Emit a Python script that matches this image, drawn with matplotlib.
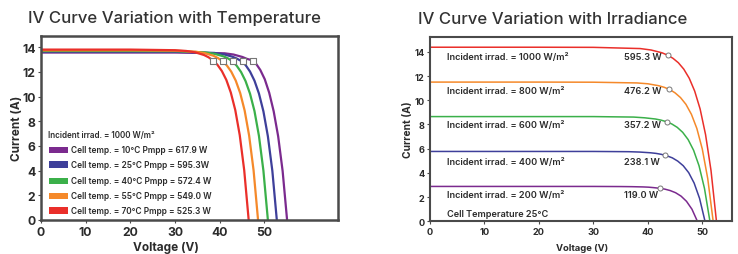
import matplotlib
matplotlib.use("Agg")
import matplotlib.pyplot as plt
from matplotlib.patches import Rectangle

plt.rcParams['font.family'] = ['Inter', 'DejaVu Sans']

# ---------------- Data: temperature chart ----------------
temp_labels = ["Cell temp. = 10°C Pmpp = 617.9 W",
               "Cell temp. = 25°C Pmpp = 595.3W",
               "Cell temp. = 40°C Pmpp = 572.4 W",
               "Cell temp. = 55°C Pmpp = 549.0 W",
               "Cell temp. = 70°C Pmpp = 525.3 W"]
temp_colors = ["#7b2a8e", "#3e3f9a", "#3bb04a", "#f5892a", "#ea2f2a"]

v_t10 = [0, 10, 20, 30, 41.1, 43.1, 45.1, 46.1, 47.1, 48.1, 49.1, 50.1, 51.1, 52.1, 53.1, 54.1, 55.1]
i_t10 = [13.56, 13.56, 13.56, 13.56, 13.50, 13.40, 13.20, 13.05, 12.95, 12.68, 12.15, 11.40, 10.30, 8.80, 6.78, 3.97, 0]
v_t25 = [0, 10, 20, 30, 38.8, 40.8, 42.8, 43.8, 44.8, 45.8, 46.8, 47.8, 48.8, 49.8, 50.8, 51.8, 52.8]
i_t25 = [13.62, 13.62, 13.62, 13.62, 13.53, 13.43, 13.23, 13.08, 12.88, 12.55, 12.02, 11.28, 10.24, 8.80, 6.78, 3.98, 0]
v_t40 = [0, 10, 20, 30, 36.8, 38.8, 40.8, 41.8, 42.8, 43.8, 44.8, 45.8, 46.8, 47.8, 48.8, 49.8, 50.8]
i_t40 = [13.68, 13.68, 13.68, 13.67, 13.57, 13.46, 13.26, 13.10, 12.87, 12.50, 11.98, 11.25, 10.23, 8.82, 6.81, 3.99, 0]
v_t55 = [0, 10, 20, 30, 34.6, 36.6, 38.6, 39.6, 40.6, 41.6, 42.6, 43.6, 44.6, 45.6, 46.6, 47.6, 48.6]
i_t55 = [13.74, 13.74, 13.74, 13.71, 13.63, 13.52, 13.30, 13.12, 12.87, 12.52, 12.01, 11.29, 10.28, 8.86, 6.84, 4.01, 0]
v_t70 = [0, 10, 20, 30, 32.5, 34.5, 36.5, 37.5, 38.5, 39.5, 40.5, 41.5, 42.5, 43.5, 44.5, 45.5, 46.5]
i_t70 = [13.80, 13.80, 13.80, 13.75, 13.69, 13.58, 13.36, 13.18, 12.93, 12.57, 12.06, 11.34, 10.32, 8.90, 6.87, 4.03, 0]
temp_v = [v_t10, v_t25, v_t40, v_t55, v_t70]
temp_i = [i_t10, i_t25, i_t40, i_t55, i_t70]
temp_mpp_v = [47.5, 45.2, 43.05, 40.8, 38.6]
temp_mpp_i = [12.86, 12.86, 12.86, 12.86, 12.86]
temp_title = "Incident irrad. = 1000 W/m²"

# ---------------- Data: irradiance chart ----------------
irr_labels = ["Incident irrad. = 1000 W/m²", "Incident irrad. = 800 W/m²",
              "Incident irrad. = 600 W/m²", "Incident irrad. = 400 W/m²",
              "Incident irrad. = 200 W/m²"]
irr_power = ["595.3 W", "476.2 W", "357.2 W", "238.1 W", "119.0 W"]
irr_colors = ["#ea2f2a", "#f5892a", "#3bb04a", "#3e3f9a", "#7b2a8e"]

v_g1000 = [0, 10, 20, 30, 38.6, 40.6, 42.6, 43.6, 44.6, 45.6, 46.6, 47.6, 48.6, 49.6, 50.6, 51.6, 52.6]
i_g1000 = [14.38, 14.38, 14.38, 14.37, 14.27, 14.15, 13.92, 13.73, 13.47, 13.10, 12.57, 11.82, 10.76, 9.28, 7.16, 4.20, 0]
v_g800 = [0, 10, 20, 30, 38.0, 40.0, 42.0, 43.0, 44.0, 45.0, 46.0, 47.0, 48.0, 49.0, 50.0, 51.0, 52.0]
i_g800 = [11.50, 11.50, 11.50, 11.49, 11.43, 11.36, 11.20, 11.07, 10.89, 10.61, 10.22, 9.66, 8.84, 7.67, 5.97, 3.53, 0]
v_g600 = [0, 10, 20, 30, 37.4, 39.4, 41.4, 42.4, 43.4, 44.4, 45.4, 46.4, 47.4, 48.4, 49.4, 50.4, 51.4]
i_g600 = [8.65, 8.65, 8.65, 8.65, 8.61, 8.55, 8.45, 8.36, 8.23, 8.04, 7.76, 7.35, 6.75, 5.87, 4.59, 2.72, 0]
v_g400 = [0, 10, 20, 30, 36.5, 38.5, 40.5, 41.5, 42.5, 43.5, 44.5, 45.5, 46.5, 47.5, 48.5, 49.5, 50.5]
i_g400 = [5.77, 5.77, 5.77, 5.77, 5.75, 5.72, 5.66, 5.61, 5.53, 5.41, 5.24, 4.97, 4.59, 4.02, 3.16, 1.89, 0]
v_g200 = [0, 10, 20, 30, 35.1, 37.1, 39.1, 40.1, 41.1, 42.1, 43.1, 44.1, 45.1, 46.1, 47.1, 48.1, 49.1]
i_g200 = [2.88, 2.88, 2.88, 2.88, 2.87, 2.86, 2.84, 2.82, 2.78, 2.73, 2.66, 2.54, 2.36, 2.08, 1.65, 1.00, 0]
irr_v = [v_g1000, v_g800, v_g600, v_g400, v_g200]
irr_i = [i_g1000, i_g800, i_g600, i_g400, i_g200]
irr_mpp_v = [43.7, 43.8, 43.6, 43.15, 42.3]
irr_mpp_i = [13.70, 10.92, 8.20, 5.46, 2.72]
irr_note = "Cell Temperature 25°C"

xticks_t = [0, 10, 20, 30, 40, 50]
yticks_t = [0, 2, 4, 6, 8, 10, 12, 14]

TXT = "#2b2b2b"
SPINE = "#4a4a4a"

fig = plt.figure(figsize=(7.38, 2.55), dpi=100)

# ---------------- Left chart ----------------
ax1 = fig.add_axes([41/738, 34/255, 297/738, 184/255])
for v, i, c in zip(temp_v, temp_i, temp_colors):
    ax1.plot(v, i, color=c, lw=1.6, solid_capstyle='butt', zorder=2)
ax1.scatter(temp_mpp_v, temp_mpp_i, marker='s', s=18, facecolor='white',
            edgecolor='#777777', linewidths=0.8, zorder=3)
ax1.set_xlim(0, 66.5)
ax1.set_ylim(0, 14.9)
ax1.set_xticks(xticks_t)
ax1.set_yticks(yticks_t)
ax1.tick_params(direction='out', length=2.5, width=0.8, color=SPINE, pad=1.5,
                labelsize=8.8, labelcolor=TXT)
for lab in ax1.get_xticklabels() + ax1.get_yticklabels():
    lab.set_fontweight('bold')
for s in ax1.spines.values():
    s.set_linewidth(1.8)
    s.set_color(SPINE)
ax1.set_xlabel("Voltage (V)", fontsize=8.5, fontweight='bold', color=TXT, va='center')
ax1.xaxis.set_label_coords(0.42, -0.145)
ax1.set_ylabel("Current (A)", fontsize=8.5, fontweight='bold', color=TXT, va='center')
ax1.yaxis.set_label_coords(-0.08, 0.503)

ax1.text(0.0236, 0.462, temp_title, transform=ax1.transAxes, fontsize=5.8,
         fontweight='semibold', color=TXT, va='center', ha='left')
rows_y = [0.382, 0.301, 0.213, 0.132, 0.052]
for y, lab, c in zip(rows_y, temp_labels, temp_colors):
    ax1.add_patch(Rectangle((0.027, y - 0.017), 0.064, 0.034, transform=ax1.transAxes,
                            facecolor=c, edgecolor='none', zorder=4))
    ax1.text(0.100, y, lab, transform=ax1.transAxes, fontsize=6.0, fontweight='semibold',
             color=TXT, va='center', ha='left')

fig.text(27.7/738, 1 - 18/255, "IV Curve Variation with Temperature", fontsize=12.1,
         color='#333333', va='center', ha='left', fontweight='medium')

# ---------------- Right chart ----------------
ax2 = fig.add_axes([430/738, 32.7/255, 301.7/738, 184/255])
for v, i, c in zip(irr_v, irr_i, irr_colors):
    ax2.plot(v, i, color=c, lw=1.1, zorder=2)
ax2.scatter(irr_mpp_v, irr_mpp_i, marker='o', s=13, facecolor='white',
            edgecolor='#777777', linewidths=0.7, zorder=3)
ax2.set_xlim(0, 55.4)
ax2.set_ylim(0, 15.2)
ax2.set_xticks(xticks_t)
ax2.set_yticks(yticks_t)
ax2.tick_params(direction='out', length=2.5, width=0.8, color=SPINE, pad=1.5,
                labelsize=6.6, labelcolor=TXT)
for lab in ax2.get_xticklabels() + ax2.get_yticklabels():
    lab.set_fontweight('bold')
for s in ax2.spines.values():
    s.set_linewidth(1.5)
    s.set_color(SPINE)
ax2.set_xlabel("Voltage (V)", fontsize=6.8, fontweight='bold', color=TXT, va='center')
ax2.xaxis.set_label_coords(0.503, -0.14)
ax2.set_ylabel("Current (A)", fontsize=7.4, fontweight='bold', color=TXT, va='center')
ax2.yaxis.set_label_coords(-0.072, 0.504)

ann_y = [0.8946, 0.7098, 0.5234, 0.326, 0.148]
for y, lab, pw in zip(ann_y, irr_labels, irr_power):
    ax2.text(0.0553, y, lab, transform=ax2.transAxes, fontsize=6.6, fontweight='semibold',
             color=TXT, va='center', ha='left')
    ax2.text(0.643, y, pw, transform=ax2.transAxes, fontsize=6.6, fontweight='semibold',
             color=TXT, va='center', ha='left')
ax2.text(0.0553, 0.0397, irr_note, transform=ax2.transAxes, fontsize=6.6,
         fontweight='semibold', color=TXT, va='center', ha='left')

fig.text(417.7/738, 1 - 20/255, "IV Curve Variation with Irradiance", fontsize=12.1,
         color='#333333', va='center', ha='left', fontweight='medium')

fig.savefig("out.png", dpi=100)
